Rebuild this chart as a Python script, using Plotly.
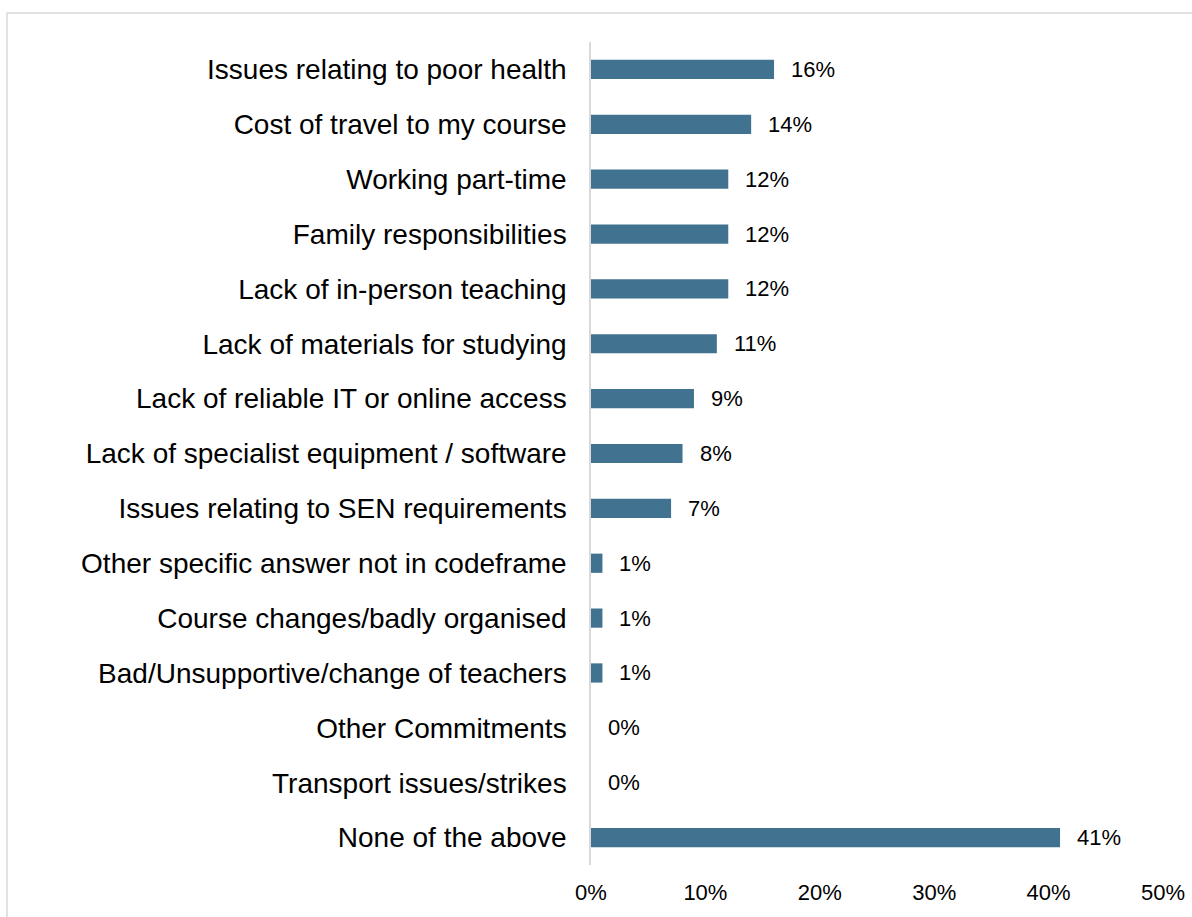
import plotly.graph_objects as go

categories = [
    "Issues relating to poor health",
    "Cost of travel to my course",
    "Working part-time",
    "Family responsibilities",
    "Lack of in-person teaching",
    "Lack of materials for studying",
    "Lack of reliable IT or online access",
    "Lack of specialist equipment / software",
    "Issues relating to SEN requirements",
    "Other specific answer not in codeframe",
    "Course changes/badly organised",
    "Bad/Unsupportive/change of teachers",
    "Other Commitments",
    "Transport issues/strikes",
    "None of the above",
]
values = [0.16, 0.14, 0.12, 0.12, 0.12, 0.11, 0.09, 0.08, 0.07, 0.01, 0.01, 0.01, 0.0, 0.0, 0.41]
tick_vals = [0, 0.1, 0.2, 0.3, 0.4, 0.5]
tick_text = ["0%", "10%", "20%", "30%", "40%", "50%"]

BAR = "#41728f"
FONT = "Liberation Sans, Arial, sans-serif"

fig = go.Figure()
fig.add_trace(go.Bar(
    x=values, y=categories, orientation="h",
    marker=dict(color=BAR, line=dict(width=0)),
    width=0.35, hoverinfo="skip",
))

annotations = []
for c, v in zip(categories, values):
    annotations.append(dict(
        x=v, y=c, xref="x", yref="y", text=f"{round(v*100)}%",
        showarrow=False, xanchor="left", yanchor="middle", xshift=15,
        font=dict(family=FONT, size=22, color="#000000"),
    ))

L, R, T, B = 591, 29, 42, 52
W, H = 1192, 917
pw, ph = W - L - R, H - T - B

fig.update_layout(
    width=W, height=H, autosize=False,
    margin=dict(l=L, r=R, t=T, b=B, pad=0, autoexpand=False),
    paper_bgcolor="white", plot_bgcolor="white",
    showlegend=False,
    font=dict(family=FONT, color="#000000"),
    annotations=annotations,
    shapes=[dict(
        type="rect", xref="paper", yref="paper",
        x0=(7 - L) / pw, x1=(W + 20 - L) / pw,
        y0=-(H + 20 - T - ph) / ph, y1=1 + (T - 13) / ph,
        line=dict(color="#d9d9d9", width=1.5), fillcolor="rgba(0,0,0,0)", layer="below",
    )],
)
fig.update_xaxes(
    range=[0, 0.5], tickvals=tick_vals, ticktext=tick_text, automargin=False,
    showgrid=False, zeroline=False, showline=False,
    tickfont=dict(family=FONT, size=22, color="#000000"),
    ticks="", ticklabelstandoff=12,
)
fig.update_yaxes(
    categoryorder="array", categoryarray=categories, autorange="reversed", automargin=False,
    showgrid=False, zeroline=False, showline=True, linecolor="#d9d9d9", linewidth=1.5,
    tickfont=dict(family=FONT, size=28, color="#000000"),
    ticks="", ticklabelstandoff=17,
)

fig.write_html(
    "out.html",
    config={"displayModeBar": False},
    post_script="document.body.style.margin='0';document.body.style.overflow='hidden';",
)
